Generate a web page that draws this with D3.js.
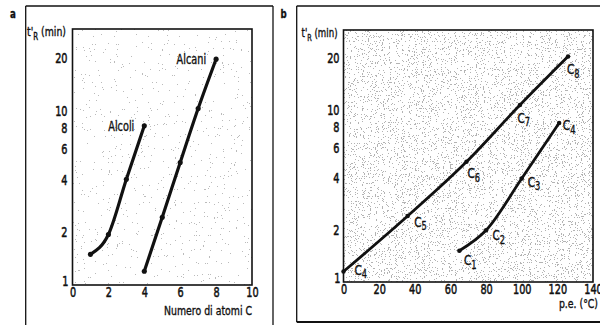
<!DOCTYPE html>
<html>
<head>
<meta charset="utf-8">
<script src="https://cdn.jsdelivr.net/npm/d3@7"></script>
<style>
	html, body { margin: 0; padding: 0; background: #fff; }
	svg text { font-family: "DejaVu Sans Condensed", "Liberation Sans", sans-serif; font-stretch: condensed; fill: #111; }
</style>
</head>
<body>
<svg id="chart" width="600" height="325"></svg>
<script>
// pannello a: tempo di ritenzione vs numero di atomi C
var carbonAtoms = [1, 2, 3, 4];
var alcoliTr = [1.5, 1.95, 4.05, 8.2];
var alcaniAtoms = [4, 5, 6, 7, 8];
var alcaniTr = [1.2, 2.45, 5.05, 10.3, 19.8];

// pannello b: tempo di ritenzione vs punto di ebollizione
var alcaniBp = [0, 36, 69, 99, 126];
var alcaniBpTr = [1.15, 2.42, 5.0, 10.7, 20.5];
var alcaniNames = ["4", "5", "6", "7", "8"];
var alcoliBp = [65, 80, 100, 121];
var alcoliBpTr = [1.52, 2.0, 4.0, 8.4];
var alcoliNames = ["1", "2", "3", "4"];

var yTicks = [1, 2, 4, 6, 8, 10, 20];
var xTicksA = [0, 2, 4, 6, 8, 10];
var xTicksB = [0, 20, 40, 60, 80, 100, 120, 140];

// spostamento delle etichette C_n rispetto al punto
var offsAlcani = [[15, -2], [10.5, 5.7], [5, 11.5], [1.5, 12.6], [3, 13]];
var offsAlcoli = [[8.7, 9.3], [10.4, 4.8], [10, 3.3], [7.7, 2.4]];

var SX = 0.8; // testo stretto come nell'originale

var svg = d3.select("#chart");
var defs = svg.append("defs");

// puntinato di fondo (retino della scansione)
function speckle(id, k, c, seed, grey){
	var f = defs.append("filter").attr("id", id)
		.attr("x", 0).attr("y", 0).attr("width", 1).attr("height", 1);
	f.append("feTurbulence").attr("type", "fractalNoise")
		.attr("baseFrequency", 0.85).attr("numOctaves", 2).attr("seed", seed).attr("result", "n");
	f.append("feColorMatrix").attr("in", "n").attr("type", "matrix")
		.attr("values", "0 0 0 0 " + grey + "  0 0 0 0 " + grey + "  0 0 0 0 " + grey + "  " + k + " 0 0 0 " + c);
	f.append("feComponentTransfer").append("feFuncA").attr("type", "discrete")
		.attr("tableValues", "0 0 0 0 0 0 0 0.8");
}
speckle("speckA", 3.2, -1.5, 4, 0.4);
speckle("speckB", 3.2, -1.2, 9, 0.35);

function frameLine(x1, y1, x2, y2, w){
	svg.append("line").attr("x1", x1).attr("y1", y1).attr("x2", x2).attr("y2", y2)
		.attr("stroke", "#111").attr("stroke-width", w || 1.3);
}

// testo compresso orizzontalmente
function label(g, x, y, size, anchor){
	return g.append("text").attr("transform", "translate(" + x + "," + y + ") scale(" + SX + ",1)")
		.attr("font-size", size).attr("text-anchor", anchor || "start")
		.attr("stroke", "#111").attr("stroke-width", 0.35);
}

// cornici esterne
frameLine(25.7, 6, 25.7, 325);
frameLine(25.7, 6, 273, 6);
frameLine(273, 6, 273, 325);
frameLine(296.7, 6, 296.7, 322);
frameLine(296.7, 6, 600, 6, 1.6);
frameLine(296.7, 322, 600, 322, 2);

label(svg, 13, 18, 12, "middle").attr("font-weight", "bold").text("a");
label(svg, 283.5, 18, 12, "middle").attr("font-weight", "bold").text("b");

function panel(opt){
	var x = opt.x, y = opt.y;
	var g = svg.append("g");
	var r = [x.range()[0], y.range()[1], x.range()[1] - x.range()[0], y.range()[0] - y.range()[1]];

	g.append("rect").attr("x", r[0]).attr("y", r[1]).attr("width", r[2]).attr("height", r[3])
		.attr("fill", "#fff").attr("filter", "url(#" + opt.speck + ")");
	g.append("rect").attr("x", r[0]).attr("y", r[1]).attr("width", r[2]).attr("height", r[3])
		.attr("fill", "none").attr("stroke", "#111").attr("stroke-width", 1.6);

	var ya = g.append("g").attr("transform", "translate(" + r[0] + ",0)")
		.call(d3.axisLeft(y).tickValues(yTicks).tickSize(0).tickPadding(opt.yPad).tickFormat(d3.format("d")));
	var xa = g.append("g").attr("transform", "translate(0," + y.range()[0] + ")")
		.call(d3.axisBottom(x).tickValues(opt.xTicks).tickSize(0).tickPadding(2).tickFormat(d3.format("d")));
	[ya, xa].forEach(function(a){
		a.select(".domain").remove();
		a.selectAll("text").attr("font-size", 13.5).attr("font-family", null).attr("fill", "#111")
			.attr("stroke", "#111").attr("stroke-width", 0.5)
			.attr("transform", "scale(" + SX + ",1)");
	});
	ya.selectAll("text").attr("x", -opt.yPad / SX);
	ya.selectAll(".tick").filter(function(d){ return d === 1; }).select("text").attr("dy", "0.05em").attr("x", -(opt.yPad - 1) / SX);

	// titolo asse y: t'R (min)
	var t = label(g, opt.yTitleX, r[1] + 7, opt.yTitleSize);
	t.append("tspan").text("t'");
	t.append("tspan").attr("dy", 4).attr("font-size", opt.yTitleSize * 0.75).text("R");
	t.append("tspan").attr("dy", -4).text(" (min)");

	label(g, opt.xTitleX, opt.xTitleY, 13, "end").text(opt.xTitle);

	var line = d3.line().curve(d3.curveMonotoneX)
		.x(function(d){ return x(d[0]); }).y(function(d){ return y(d[1]); });

	opt.series.forEach(function(s){
		var pts = d3.zip(s.xs, s.ys);
		g.append("path").datum(pts).attr("d", line).attr("fill", "none")
			.attr("stroke", "#111").attr("stroke-width", opt.lw).attr("stroke-linecap", "round");
		g.selectAll(null).data(pts).enter().append("circle")
			.attr("cx", function(d){ return x(d[0]); }).attr("cy", function(d){ return y(d[1]); })
			.attr("r", opt.lw * 0.8).attr("fill", "#111");
		if (s.label) {
			var last = pts[pts.length - 1];
			label(g, x(last[0]) - 10, y(last[1]) + 5, 13.5, "end").text(s.label);
		}
		if (s.names) {
			pts.forEach(function(p, i){
				var c = label(g, x(p[0]) + s.offs[i][0] - 4, y(p[1]) + s.offs[i][1] + 5, 14.5);
				c.append("tspan").text("C");
				c.append("tspan").attr("dy", 3.5).attr("font-size", 11.5).text(s.names[i]);
			});
		}
	});
}

panel({
	x: d3.scaleLinear().domain([0, 10]).range([72.5, 252]),
	y: d3.scaleLog().domain([1, 29.5]).range([285, 29]),
	xTicks: xTicksA,
	yPad: 5,
	yTitleX: 27,
	yTitleSize: 13,
	xTitle: "Numero di atomi C",
	xTitleX: 252,
	xTitleY: 315,
	speck: "speckA",
	lw: 3.2,
	series: [
		{ xs: carbonAtoms, ys: alcoliTr, label: "Alcoli" },
		{ xs: alcaniAtoms, ys: alcaniTr, label: "Alcani" }
	]
});

panel({
	x: d3.scaleLinear().domain([0, 140]).range([343.5, 593]),
	y: d3.scaleLog().domain([1, 29.2]).range([282, 30]),
	xTicks: xTicksB,
	yPad: 4,
	yTitleX: 301.5,
	yTitleSize: 12,
	xTitle: "p.e. (°C)",
	xTitleX: 598,
	xTitleY: 308,
	speck: "speckB",
	lw: 2.8,
	series: [
		{ xs: alcaniBp, ys: alcaniBpTr, names: alcaniNames, offs: offsAlcani },
		{ xs: alcoliBp, ys: alcoliBpTr, names: alcoliNames, offs: offsAlcoli }
	]
});
</script>
</body>
</html>
